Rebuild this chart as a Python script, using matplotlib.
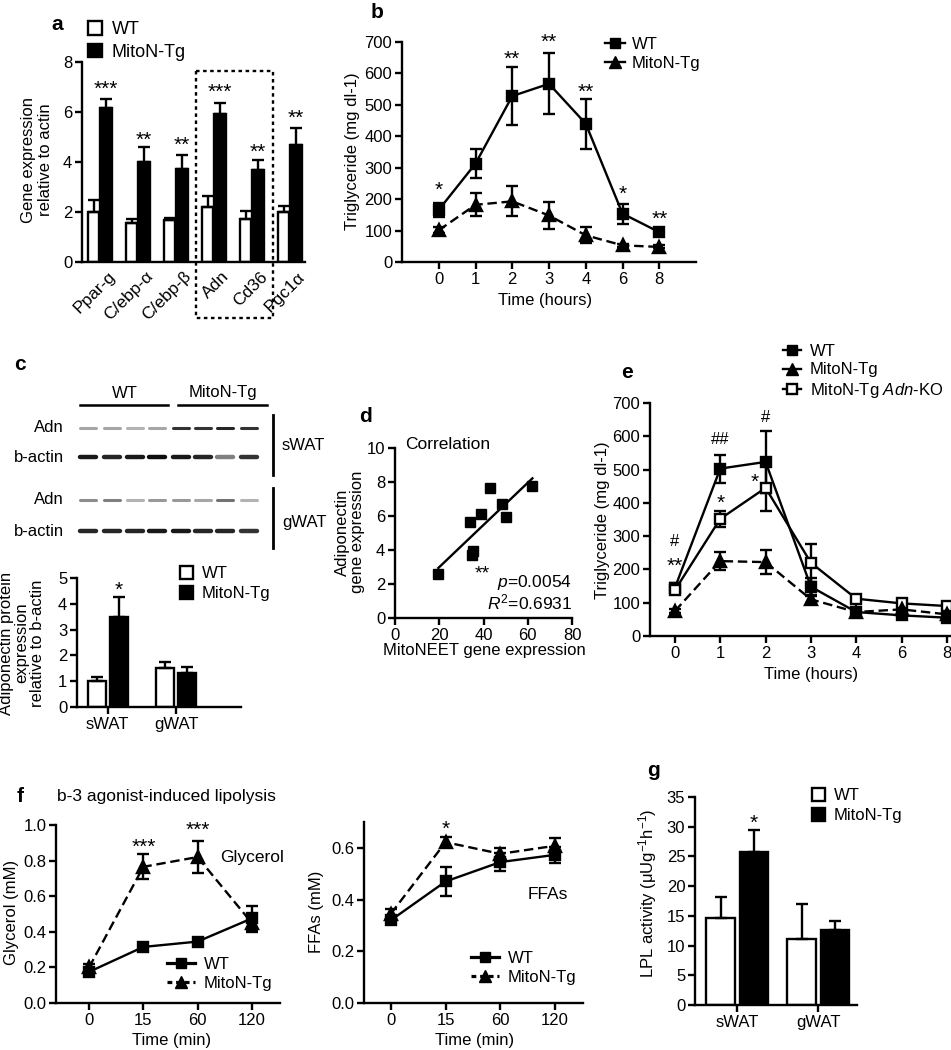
import numpy as np
import matplotlib
matplotlib.use('Agg')
import matplotlib.pyplot as plt
from matplotlib.lines import Line2D
from matplotlib.patches import Rectangle

plt.rcParams['font.family'] = ['Liberation Sans', 'DejaVu Sans']
plt.rcParams['mathtext.fontset'] = 'custom'
plt.rcParams['mathtext.rm'] = 'Liberation Sans'
plt.rcParams['mathtext.it'] = 'Liberation Sans:italic'
plt.rcParams['mathtext.bf'] = 'Liberation Sans:bold'

# ---------------- data ----------------
# panel a
genes = ['Ppar-g', 'C/ebp-α', 'C/ebp-β', 'Adn', 'Cd36', 'Pgc1α']
a_wt = [2.0, 1.57, 1.67, 2.2, 1.73, 2.0]
a_wt_err = [0.47, 0.16, 0.1, 0.44, 0.31, 0.24]
a_tg = [6.16, 4.0, 3.73, 5.93, 3.67, 4.69]
a_tg_err = [0.37, 0.6, 0.56, 0.43, 0.4, 0.67]
a_stars = ['***', '**', '**', '***', '**', '**']
a_star_y = [7.2, 5.13, 4.96, 7.07, 4.67, 6.03]

# panel b
b_times = ['0', '1', '2', '3', '4', '6', '8']
b_wt = [166, 313, 528, 567, 440, 154, 95]
b_wt_err = [22, 46, 92, 97, 79, 32, 6]
b_tg = [101, 182, 193, 148, 85, 53, 48]
b_tg_err = [10, 36, 48, 44, 26, 5, 5]
b_stars = ['*', '', '**', '**', '**', '*', '**']
b_star_y = [249, 0, 668, 721, 562, 239, 159]

# panel c (blot band darkness, 8 lanes: 4 WT + 4 MitoN-Tg)
blot_rows = ['Adn', 'b-actin', 'Adn', 'b-actin']
blot_sWAT_adn = [0.35, 0.35, 0.3, 0.35, 0.8, 0.8, 0.85, 0.8]
blot_sWAT_act = [0.9, 0.85, 0.9, 0.95, 0.9, 0.85, 0.5, 0.8]
blot_gWAT_adn = [0.45, 0.5, 0.3, 0.4, 0.4, 0.35, 0.55, 0.3]
blot_gWAT_act = [0.85, 0.85, 0.85, 0.9, 0.9, 0.85, 0.85, 0.8]
c_groups = ['sWAT', 'gWAT']
c_wt = [1.02, 1.52]
c_wt_err = [0.16, 0.24]
c_tg = [3.48, 1.33]
c_tg_err = [0.78, 0.22]
c_star_y = 4.8

# panel d
d_x = [19.6, 34.7, 35.4, 33.9, 38.7, 42.9, 48.4, 50.2, 62.1]
d_y = [2.57, 3.70, 3.94, 5.66, 6.10, 7.63, 6.70, 5.92, 7.78]

# panel e
e_times = ['0', '1', '2', '3', '4', '6', '8']
e_wt = [145, 503, 523, 148, 72, 62, 55]
e_wt_err = [15, 42, 92, 25, 10, 8, 8]
e_tg = [75, 225, 222, 110, 72, 80, 65]
e_tg_err = [6, 28, 37, 10, 8, 8, 8]
e_ko = [138, 352, 445, 220, 112, 98, 90]
e_ko_err = [12, 25, 70, 57, 12, 10, 8]
e_marks = ['#', '**', '##', '*', '#', '*']
e_mark_x = [0, 0, 1, 1, 2, 1.75]
e_mark_y = [288, 231, 595, 419, 661, 484]

# panel f
f_times = ['0', '15', '60', '120']
gly_wt = [0.175, 0.315, 0.345, 0.475]
gly_wt_err = [0.02, 0.02, 0.02, 0.07]
gly_tg = [0.2, 0.765, 0.82, 0.45]
gly_tg_err = [0.02, 0.07, 0.09, 0.05]
gly_stars = ['', '***', '***', '']
gly_star_y = [0, 0.915, 1.01, 0]
ffa_wt = [0.32, 0.47, 0.545, 0.573]
ffa_wt_err = [0.015, 0.055, 0.035, 0.03]
ffa_tg = [0.345, 0.622, 0.577, 0.608]
ffa_tg_err = [0.02, 0.02, 0.022, 0.03]
ffa_stars = ['', '*', '', '']
ffa_star_y = [0, 0.70, 0, 0]

# panel g
g_groups = ['sWAT', 'gWAT']
g_wt = [14.6, 11.1]
g_wt_err = [3.5, 5.9]
g_tg = [25.7, 12.7]
g_tg_err = [3.7, 1.4]
g_star_y = 31.8

# ---------------- figure ----------------
W, H = 951, 1050
FS = 12
LW = 1.7
fig = plt.figure(figsize=(W / 100, H / 100), dpi=100)


def add_ax(l, t, r, b):
    ax = fig.add_axes([l / W, 1 - b / H, (r - l) / W, (b - t) / H])
    ax.patch.set_visible(False)
    for s in ['top', 'right']:
        ax.spines[s].set_visible(False)
    for s in ['left', 'bottom']:
        ax.spines[s].set_linewidth(LW)
    ax.tick_params(direction='out', length=5, width=LW, labelsize=FS, pad=2)
    return ax


ov = fig.add_axes([0, 0, 1, 1], zorder=10)
ov.set_xlim(0, W)
ov.set_ylim(H, 0)
ov.axis('off')


def T(x, y, s, **kw):
    kw.setdefault('fontsize', FS)
    kw.setdefault('ha', 'center')
    kw.setdefault('va', 'center')
    ov.text(x, y, s, **kw)


def star(ax, x, y, s, fs=15):
    if s:
        ax.annotate(s, (x, y), xytext=(0, -0.6 * fs), textcoords='offset points',
                    ha='center', va='baseline', fontsize=fs, annotation_clip=False)


def mark(ax, x, y, s, fs=12):
    if s:
        ax.annotate(s, (x, y), xytext=(0, -0.36 * fs), textcoords='offset points',
                    ha='center', va='baseline', fontsize=fs, annotation_clip=False)


def sq_legend(ax, x, y, fs=FS):
    h = [Rectangle((0, 0), 1, 1, fc='white', ec='k', lw=LW),
         Rectangle((0, 0), 1, 1, fc='k', ec='k', lw=LW)]
    ax.legend(h, ['WT', 'MitoN-Tg'], loc='upper left', bbox_to_anchor=(x / W, 1 - y / H),
              bbox_transform=fig.transFigure, frameon=False, fontsize=fs,
              handlelength=0.8, handleheight=0.8, handletextpad=0.5, labelspacing=0.3,
              borderpad=0, borderaxespad=0)


def bars(ax, wt, wt_err, tg, tg_err, off, w):
    x = np.arange(len(wt))
    ax.bar(x - off, wt, w, color='white', edgecolor='k', lw=LW, zorder=2)
    ax.bar(x + off, tg, w, color='k', edgecolor='k', lw=LW, zorder=2)
    z = np.zeros(len(wt))
    ax.errorbar(x - off, wt, yerr=[z, wt_err], fmt='none', ecolor='k', elinewidth=LW,
                capsize=4, capthick=LW, zorder=3)
    ax.errorbar(x + off, tg, yerr=[z, tg_err], fmt='none', ecolor='k', elinewidth=LW,
                capsize=4, capthick=LW, zorder=3)
    return x


def line_series(ax, y, err, marker, ls, ms, mfc='k'):
    x = np.arange(len(y))
    ax.errorbar(x, y, yerr=err, fmt='none', ecolor='k', elinewidth=LW, capsize=4,
                capthick=LW, zorder=3)
    ax.plot(x, y, color='k', lw=LW, ls=ls, marker=marker, ms=ms, mfc=mfc, mec='k',
            mew=LW, zorder=4, clip_on=False)


DASH = (0, (4, 2))

# ---- panel a ----
ax = add_ax(82, 62, 305, 262)
x = bars(ax, a_wt, a_wt_err, a_tg, a_tg_err, 0.165, 0.3)
ax.set_ylim(0, 8)
ax.set_yticks([0, 2, 4, 6, 8])
ax.set_xlim(-0.47, 5.4)
ax.set_xticks(x + 0.2)
ax.set_xticklabels(genes, rotation=45, ha='right', va='top', rotation_mode='anchor',
                   fontsize=FS + 0.5)
ax.tick_params(axis='x', length=0, pad=5)
for xi, s, yv in zip(x, a_stars, a_star_y):
    star(ax, xi + 0.165, yv, s)
sq_legend(ax, 88, 21, fs=FS + 1)
T(37, 160, 'Gene expression\nrelative to actin', rotation=90, linespacing=1.15)
T(57, 25, 'a', fontsize=15, fontweight='bold')
ov.add_patch(Rectangle((196, 71), 77, 247, fill=False, ec='k', lw=LW, ls=(0, (1.5, 1.5))))

# ---- panel b ----
ax = add_ax(402, 42, 696, 262)
line_series(ax, b_wt, b_wt_err, 's', '-', 7.5)
line_series(ax, b_tg, b_tg_err, '^', DASH, 8.5)
ax.set_ylim(0, 700)
ax.set_yticks(range(0, 701, 100))
ax.set_xlim(-1, 7)
ax.set_xticks(range(7))
ax.set_xticklabels(b_times)
for xi, s, yv in zip(range(7), b_stars, b_star_y):
    star(ax, xi, yv, s)
hb = [Line2D([], [], color='k', marker='s', ms=7.5, lw=LW),
      Line2D([], [], color='k', marker='^', ms=8.5, lw=LW)]
ax.legend(hb, ['WT', 'MitoN-Tg'], loc='upper left', bbox_to_anchor=(605 / W, 1 - 37 / H),
          bbox_transform=fig.transFigure, frameon=False, fontsize=FS,
          handlelength=1.2, handletextpad=0.4, labelspacing=0.25, borderpad=0, borderaxespad=0)
T(353, 151, 'Triglyceride (mg dl-1)', rotation=90)
T(545, 300, 'Time (hours)')
T(377, 12, 'b', fontsize=15, fontweight='bold')

# ---- panel c : blot ----
T(20, 365, 'c', fontsize=15, fontweight='bold')
T(125, 393, 'WT')
T(223, 393, 'MitoN-Tg')
ov.plot([80, 168], [405, 405], color='k', lw=1.8)
ov.plot([178, 267], [405, 405], color='k', lw=1.8)
lanes = [88, 112, 135, 157, 181, 203, 225, 249]
rows_y = [428, 457, 500, 531]
rows_thick = [2.2, 3.2, 2.2, 3.2]
for ry, th, lab, vals in zip(rows_y, rows_thick, blot_rows,
                             [blot_sWAT_adn, blot_sWAT_act, blot_gWAT_adn, blot_gWAT_act]):
    T(64, ry, lab, ha='right')
    for lx, v in zip(lanes, vals):
        g = 1 - v
        ov.plot([lx - 8, lx + 8], [ry, ry], color=(g, g, g), lw=th, solid_capstyle='round')
ov.plot([273, 273], [415, 475], color='k', lw=2)
ov.plot([273, 273], [488, 548], color='k', lw=2)
T(282, 445, 'sWAT', ha='left')
T(282, 523, 'gWAT', ha='left')

# ---- panel c : bars ----
ax = add_ax(77, 578, 241, 707)
x = bars(ax, c_wt, c_wt_err, c_tg, c_tg_err, 0.16, 0.26)
ax.set_ylim(0, 5)
ax.set_yticks(range(6))
ax.set_xlim(-0.45, 1.95)
ax.set_xticks(x)
ax.set_xticklabels(c_groups)
star(ax, 0.16, c_star_y, '*')
sq_legend(ax, 180, 566)
T(22, 643, 'Adiponectin protein\nexpression\nrelative to b-actin', rotation=90,
  linespacing=1.05)

# ---- panel d ----
ax = add_ax(395, 448, 572, 618)
ax.plot(d_x, d_y, 's', color='k', ms=7, zorder=3)
k, c0 = np.polyfit(d_x, d_y, 1)
xx = np.array([min(d_x), max(d_x)])
ax.plot(xx, k * xx + c0, color='k', lw=LW)
ax.set_xlim(0, 80)
ax.set_ylim(0, 10)
ax.set_xticks(range(0, 81, 20))
ax.set_yticks(range(0, 11, 2))
ax.text(4.5, 10.2, 'Correlation', ha='left', va='center', fontsize=FS + 0.5)
ax.text(80, 2.1, r'$p$=0.0054', ha='right', va='center', fontsize=FS + 0.5)
ax.text(80, 0.94, r'$R^2$=0.6931', ha='right', va='center', fontsize=FS + 0.5)
star(ax, 39.5, 3.0, '**', fs=14)
T(350, 532, 'Adiponectin\ngene expression', rotation=90, linespacing=1.05)
T(484, 651, 'MitoNEET gene expression')
T(365, 417, 'd', fontsize=15, fontweight='bold')

# ---- panel e ----
ax = add_ax(650, 403, 951, 636)
line_series(ax, e_wt, e_wt_err, 's', '-', 7.5)
line_series(ax, e_ko, e_ko_err, 's', '-', 7, mfc='white')
line_series(ax, e_tg, e_tg_err, '^', DASH, 8.5)
ax.set_ylim(0, 700)
ax.set_yticks(range(0, 701, 100))
ax.set_xlim(-0.55, 6.09)
ax.set_xticks(range(7))
ax.set_xticklabels(e_times)
for s, xm, ym in zip(e_marks, e_mark_x, e_mark_y):
    if s.startswith('#'):
        mark(ax, xm, ym, s)
    else:
        star(ax, xm, ym, s)
he = [Line2D([], [], color='k', marker='s', ms=7.5, lw=LW),
      Line2D([], [], color='k', marker='^', ms=8.5, lw=LW),
      Line2D([], [], color='k', marker='s', ms=7, mfc='white', mew=LW, lw=LW)]
ax.legend(he, ['WT', 'MitoN-Tg', r'MitoN-Tg $\mathit{Adn}$-KO'], loc='upper left',
          bbox_to_anchor=(783 / W, 1 - 344 / H), bbox_transform=fig.transFigure,
          frameon=False, fontsize=FS, handlelength=1.1, handletextpad=0.5,
          labelspacing=0.2, borderpad=0, borderaxespad=0)
T(603, 520, 'Triglyceride (mg dl-1)', rotation=90)
T(811, 674, 'Time (hours)')
T(627, 372, 'e', fontsize=15, fontweight='bold')

# ---- panel f ----
T(20, 797, 'f', fontsize=15, fontweight='bold')
T(57, 797, 'b-3 agonist-induced lipolysis', ha='left', fontsize=12.5)
hf = [Line2D([], [], color='k', marker='s', ms=7.5, lw=LW + 0.6),
      Line2D([], [], color='k', marker='^', ms=8.5, lw=LW + 0.6, ls=(0, (1.5, 1.2)))]

ax = add_ax(56, 825, 280, 1003)
line_series(ax, gly_wt, gly_wt_err, 's', '-', 7.5)
line_series(ax, gly_tg, gly_tg_err, '^', DASH, 8.5)
ax.set_ylim(0, 1.0)
ax.set_yticks([0, 0.2, 0.4, 0.6, 0.8, 1.0])
ax.set_yticklabels(['0.0', '0.2', '0.4', '0.6', '0.8', '1.0'])
ax.set_xlim(-0.61, 3.52)
ax.set_xticks(range(4))
ax.set_xticklabels(f_times)
for xi, s, yv in zip(range(4), gly_stars, gly_star_y):
    star(ax, xi, yv, s)
ax.text(3.0, 0.82, 'Glycerol', ha='center', va='center', fontsize=FS + 0.5)
ax.legend(hf, ['WT', 'MitoN-Tg'], loc='upper left', bbox_to_anchor=(167 / W, 1 - 957 / H),
          bbox_transform=fig.transFigure, frameon=False, fontsize=FS,
          handlelength=1.7, handletextpad=0.5, labelspacing=0.25, borderpad=0, borderaxespad=0)
T(12, 912, 'Glycerol (mM)', rotation=90)
T(172, 1040, 'Time (min)')

ax = add_ax(364, 822, 583, 1003)
line_series(ax, ffa_wt, ffa_wt_err, 's', '-', 7.5)
line_series(ax, ffa_tg, ffa_tg_err, '^', DASH, 8.5)
ax.set_ylim(0, 0.7)
ax.set_yticks([0, 0.2, 0.4, 0.6])
ax.set_yticklabels(['0.0', '0.2', '0.4', '0.6'])
ax.set_xlim(-0.49, 3.51)
ax.set_xticks(range(4))
ax.set_xticklabels(f_times)
for xi, s, yv in zip(range(4), ffa_stars, ffa_star_y):
    star(ax, xi, yv, s)
ax.text(2.87, 0.42, 'FFAs', ha='center', va='center', fontsize=FS + 0.5)
ax.legend(hf, ['WT', 'MitoN-Tg'], loc='upper left', bbox_to_anchor=(471 / W, 1 - 951 / H),
          bbox_transform=fig.transFigure, frameon=False, fontsize=FS,
          handlelength=1.7, handletextpad=0.5, labelspacing=0.25, borderpad=0, borderaxespad=0)
T(316, 912, 'FFAs (mM)', rotation=90)
T(475, 1040, 'Time (min)')

# ---- panel g ----
ax = add_ax(695, 797, 857, 1005)
x = bars(ax, g_wt, g_wt_err, g_tg, g_tg_err, 0.205, 0.35)
ax.set_ylim(0, 35)
ax.set_yticks(range(0, 36, 5))
ax.set_xlim(-0.52, 1.48)
ax.set_xticks(x)
ax.set_xticklabels(g_groups)
star(ax, 0.205, g_star_y, '*')
sq_legend(ax, 812, 788)
T(648, 893, 'LPL activity (μUg$^{-1}$h$^{-1}$)', rotation=90)
T(653, 770, 'g', fontsize=15, fontweight='bold')

fig.savefig('out.png', dpi=100)
